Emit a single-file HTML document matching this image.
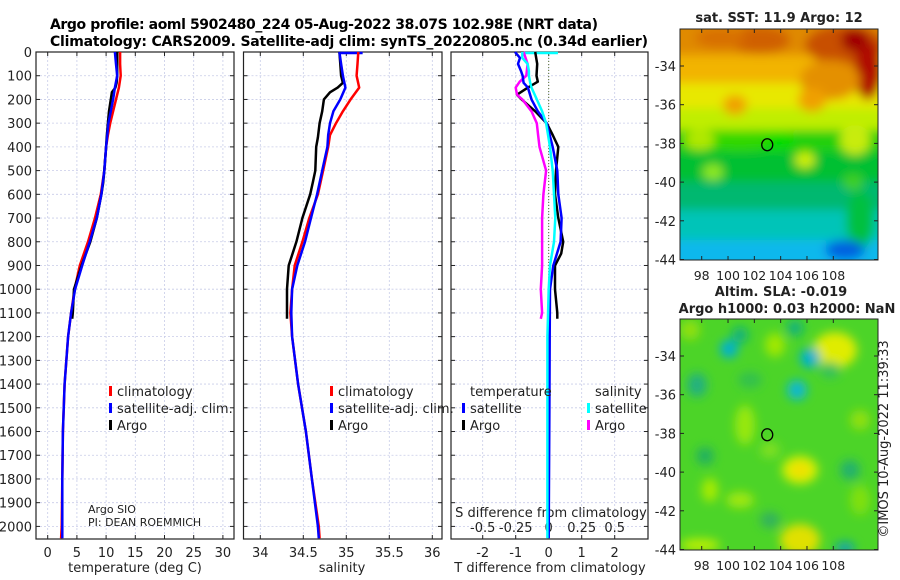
<!DOCTYPE html>
<html><head><meta charset="utf-8"><style>
html,body{margin:0;padding:0;background:#fff;}
svg{display:block;font-family:"DejaVu Sans","Liberation Sans",sans-serif;}
</style></head><body>
<svg id="fig" width="900" height="580" viewBox="0 0 900 580" xmlns="http://www.w3.org/2000/svg">
<defs>
<filter id="blur1" x="-20%" y="-20%" width="140%" height="140%"><feGaussianBlur stdDeviation="5"/></filter>
<filter id="blur2" x="-20%" y="-20%" width="140%" height="140%"><feGaussianBlur stdDeviation="5"/></filter>
<clipPath id="clipM1"><rect x="680" y="29" width="198" height="231"/></clipPath>
<clipPath id="clipM2"><rect x="680" y="319" width="198" height="231"/></clipPath>
</defs>
<text x="50" y="29" font-size="14" font-weight="bold" textLength="548">Argo profile: aoml 5902480_224 05-Aug-2022 38.07S 102.98E (NRT data)</text>
<text x="50" y="46" font-size="14" font-weight="bold" textLength="598">Climatology: CARS2009. Satellite-adj clim: synTS_20220805.nc (0.34d earlier)</text>
<g id="layer"></g>
</svg>
<script>
// ---------- data ----------
const depthTicks = [0,100,200,300,400,500,600,700,800,900,1000,1100,1200,1300,1400,1500,1600,1700,1800,1900,2000];
const tTicks = [0,5,10,15,20,25,30];
const sTicks = [34,34.5,35,35.5,36];
const sTickLabels = ["34","34.5","35","35.5","36"];
const dTTicks = [-2,-1,0,1,2];
const dSTicks = [-0.5,-0.25,0,0.25,0.5];
const dSTickLabels = ["-0.5","-0.25","0","0.25","0.5"];

const climDepth = [0,50,100,150,200,250,300,350,400,500,600,700,800,900,1000,1100,1200,1400,1600,1800,2000,2050];
const climTemp  = [12.4,12.4,12.5,12.2,11.7,11.2,10.7,10.3,10.0,9.7,9.1,8.1,6.9,5.5,4.6,4.0,3.5,2.9,2.6,2.5,2.4,2.3];
const satTemp   = [11.5,11.7,11.9,11.5,11.2,10.8,10.4,10.2,10.0,9.7,9.2,8.4,7.2,5.9,4.7,4.0,3.5,2.9,2.6,2.5,2.5,2.5];
const climSal   = [35.14,35.13,35.12,35.15,35.05,34.96,34.88,34.81,34.79,34.73,34.67,34.57,34.49,34.40,34.37,34.35,34.37,34.44,34.53,34.60,34.68,34.69];
const satSal    = [34.92,34.94,34.96,34.99,34.93,34.85,34.81,34.79,34.78,34.72,34.66,34.59,34.52,34.43,34.37,34.36,34.37,34.44,34.53,34.60,34.67,34.68];

const argoDepth = [0,50,100,130,150,170,200,250,300,360,400,500,550,600,700,800,900,1000,1050,1100,1125];
const argoTemp  = [11.9,11.9,11.9,11.8,11.6,11.0,10.8,10.5,10.3,10.1,10.0,9.7,9.5,9.2,8.4,7.3,5.8,4.5,4.4,4.3,4.2];
const argoSal   = [34.92,34.93,34.94,34.96,34.90,34.81,34.74,34.72,34.69,34.67,34.65,34.64,34.61,34.58,34.49,34.42,34.33,34.31,34.31,34.31,34.31];

const dDepth  = [0,25,50,80,100,130,150,200,250,300,400,500,600,700,800,900,1000,1200,1500,1800,2050];
const dTSat   = [-1.02,-0.87,-0.93,-0.84,-0.79,-0.76,-0.63,-0.52,-0.33,-0.06,0.12,0.26,0.29,0.39,0.36,0.14,0.04,0.03,0.02,0.01,0.0];
const dSSat   = [-0.20,-0.20,-0.16,-0.15,-0.15,-0.14,-0.13,-0.09,-0.05,-0.02,0.01,0.03,0.04,0.05,0.04,0.01,0.0,-0.01,-0.01,-0.01,-0.01];
const dADepth = [0,50,100,125,150,180,200,250,300,350,400,500,600,700,800,850,900,1000,1100,1125];
const dTArgo  = [-0.41,-0.35,-0.37,-0.33,-0.63,-0.96,-0.82,-0.41,-0.06,0.12,0.29,0.22,0.19,0.29,0.44,0.38,0.19,0.19,0.26,0.26];
const dSArgo  = [-0.19,-0.16,-0.17,-0.22,-0.25,-0.24,-0.20,-0.13,-0.09,-0.08,-0.07,-0.02,-0.04,-0.05,-0.05,-0.05,-0.05,-0.06,-0.05,-0.06];

const lonTicks = [98,100,102,104,106,108];
const latTicks = [-34,-36,-38,-40,-42,-44];
const argoLon = 102.98, argoLat = -38.07;

// ---------- axes ----------
const NS='http://www.w3.org/2000/svg';
const layer=document.getElementById('layer');
function mk(tag,attrs,parent){const e=document.createElementNS(NS,tag);for(const k in attrs)e.setAttribute(k,attrs[k]);(parent||layer).appendChild(e);return e;}
const Y0=52, PY=0.2372, YB=539;
const yD = d => Y0 + d*PY;
const P1={l:36,r:234}, P2={l:243.5,r:442}, P3={l:451,r:648};
const xT = t => 47.7 + t*5.84;
const xS = s => 260.3 + (s-34)*86;
const xDT = t => 548.7 + t*33;
const xDS = s => 548.7 + s*132;

function panel(P,name,vgrid,vfun){
  const g=mk('g',{});
  
  
  depthTicks.forEach(d=>{mk('line',{x1:P.l,x2:P.r,y1:yD(d),y2:yD(d),stroke:'#c8cce8','stroke-width':0.8,'stroke-dasharray':'2,2'},g);});
  vgrid.forEach(v=>{mk('line',{x1:vfun(v),x2:vfun(v),y1:Y0,y2:YB,stroke:'#c8cce8','stroke-width':0.8,'stroke-dasharray':'2,2'},g);});
  depthTicks.forEach(d=>{mk('line',{x1:P.l,x2:P.l+4,y1:yD(d),y2:yD(d),stroke:'#222'},g);mk('line',{x1:P.r-4,x2:P.r,y1:yD(d),y2:yD(d),stroke:'#222'},g);});
  vgrid.forEach(v=>{mk('line',{x1:vfun(v),x2:vfun(v),y1:Y0,y2:Y0+4,stroke:'#222'},g);mk('line',{x1:vfun(v),x2:vfun(v),y1:YB-4,y2:YB,stroke:'#222'},g);});
  mk('rect',{x:P.l,y:Y0,width:P.r-P.l,height:YB-Y0,fill:'none',stroke:'#222','stroke-width':1.2},g);
  return g;
}
function line(xs,ds,xf,color,w,name){
  let d='';xs.forEach((v,i)=>{d+=(i?'L':'M')+xf(v).toFixed(1)+','+yD(ds[i]).toFixed(1);});
  const p=mk('path',{d:d,fill:'none',stroke:color,'stroke-width':w,'stroke-linejoin':'round'});
  
  
  return p;
}
function txt(x,y,s,attrs,name){const t=mk('text',Object.assign({x:x,y:y,'font-size':13,fill:'#222'},attrs||{}));t.textContent=s;return t;}

depthTicks.forEach(d=>{txt(32,yD(d)+5,String(d),{'text-anchor':'end'},'depth-tick-label');});

panel(P1,'temperature-panel',tTicks,xT);
tTicks.forEach(t=>txt(xT(t),557,String(t),{'text-anchor':'middle'},'temperature-tick-label'));
txt(135,572,'temperature (deg C)',{'text-anchor':'middle'},'temperature-axis-title');
line(climTemp,climDepth,xT,'#ff0000',2.5,'temperature-climatology-line');
line(argoTemp,argoDepth,xT,'#000',2.5,'temperature-argo-line');
line(satTemp,climDepth,xT,'#0000ff',2.5,'temperature-satellite-line');

panel(P2,'salinity-panel',sTicks,xS);
sTicks.forEach((s,i)=>txt(xS(s),557,sTickLabels[i],{'text-anchor':'middle'},'salinity-tick-label'));
txt(342,572,'salinity',{'text-anchor':'middle'},'salinity-axis-title');
mk('line',{x1:xS(satSal[0]),x2:xS(35.19),y1:yD(0)+1,y2:yD(0)+1,stroke:'#0000ff','stroke-width':2.5});
line(climSal,climDepth,xS,'#ff0000',2.5,'salinity-climatology-line');
line(argoSal,argoDepth,xS,'#000',2.5,'salinity-argo-line');
line(satSal,climDepth,xS,'#0000ff',2.5,'salinity-satellite-line');

panel(P3,'difference-panel',dTTicks,xDT);
mk('line',{x1:xDT(0),x2:xDT(0),y1:Y0,y2:YB,stroke:'#556b2f','stroke-width':1,'stroke-dasharray':'1,2'});
dTTicks.forEach(t=>txt(xDT(t),557,String(t),{'text-anchor':'middle'},'t-difference-tick-label'));
txt(550,572,'T difference from climatology',{'text-anchor':'middle'},'t-difference-axis-title');
dSTicks.forEach((s,i)=>txt(xDS(s),532,dSTickLabels[i],{'text-anchor':'middle'},'s-difference-tick-label'));
txt(551,517,'S difference from climatology',{'text-anchor':'middle'},'s-difference-axis-title');
mk('line',{x1:xDS(-0.19),x2:xDS(0.07),y1:yD(0)+1,y2:yD(0)+1,stroke:'#00ffff','stroke-width':2.5});
line(dTArgo,dADepth,xDT,'#000',2.5,'t-difference-argo-line');
line(dSArgo,dADepth,xDS,'#ff00ff',2.5,'s-difference-argo-line');
line(dTSat,dDepth,xDT,'#0000ff',2.5,'t-difference-satellite-line');
line(dSSat,dDepth,xDS,'#00ffff',2.5,'s-difference-satellite-line');

function legItem(x,y,color,label,name){
  const g=mk('g',{});
  mk('rect',{x:x,y:y-10,width:3,height:10,fill:color},g);
  const t=mk('text',{x:x+8,y:y,'font-size':13,fill:'#222'},g);t.textContent=label;
}
legItem(109,396,'#ff0000','climatology','legend-entry-climatology');
legItem(109,413,'#0000ff','satellite-adj. clim.','legend-entry-satellite');
legItem(109,430,'#000','Argo','legend-entry-argo');
legItem(330,396,'#ff0000','climatology','legend-entry-climatology');
legItem(330,413,'#0000ff','satellite-adj. clim.','legend-entry-satellite');
legItem(330,430,'#000','Argo','legend-entry-argo');
txt(470,396,'temperature',{},'legend-header-temperature');
legItem(462,413,'#0000ff','satellite','legend-entry-t-satellite');
legItem(462,430,'#000','Argo','legend-entry-t-argo');
txt(595,396,'salinity',{},'legend-header-salinity');
legItem(587,413,'#00ffff','satellite','legend-entry-s-satellite');
legItem(587,430,'#ff00ff','Argo','legend-entry-s-argo');
txt(88,513,'Argo SIO',{'font-size':11},'argo-source-label');
txt(88,526,'PI: DEAN ROEMMICH',{'font-size':11},'pi-label');

// ---------- maps ----------
const xLon = lon => 701.7 + (lon-98)*13.16;
function mapAxes(top,name){
  const yLat = lat => top.y34 + (-34-lat)*19.35;
  const g=mk('g',{});
  mk('rect',{x:680,y:top.t,width:198,height:231,fill:'none',stroke:'#222','stroke-width':1},g);
  lonTicks.forEach(l=>{mk('line',{x1:xLon(l),x2:xLon(l),y1:top.t+231,y2:top.t+227,stroke:'#222'},g);mk('line',{x1:xLon(l),x2:xLon(l),y1:top.t,y2:top.t+4,stroke:'#222'},g);
    const t=mk('text',{x:xLon(l),y:top.t+251,'font-size':12.5,'text-anchor':'middle',fill:'#222'},g);t.textContent=String(l);});
  latTicks.forEach(l=>{mk('line',{x1:680,x2:684,y1:yLat(l),y2:yLat(l),stroke:'#222'},g);mk('line',{x1:874,x2:878,y1:yLat(l),y2:yLat(l),stroke:'#222'},g);
    const t=mk('text',{x:676,y:yLat(l)+5,'font-size':13,'text-anchor':'end',fill:'#222'},g);t.textContent=String(l);});
  mk('ellipse',{cx:xLon(argoLon),cy:yLat(argoLat),rx:5.5,ry:6,fill:'none',stroke:'#000','stroke-width':1.3},g);
}
const m1=mk('g',{'clip-path':'url(#clipM1)'});


const b1=mk('g',{filter:'url(#blur1)'},m1);
[['#e08a00',10,40],['#f2b400',55,28],['#e8e800',83,25],['#c0ee00',108,22],['#20d010',130,22],['#00c030',152,30],['#00b870',182,28],['#00c4b8',210,30],['#10b8ec',240,40]].forEach(r=>mk('rect',{x:660,y:r[1],width:240,height:r[2]+6,fill:r[0]},b1));
[[760,40,30,14,'#d06000'],[720,38,25,10,'#d87000'],[845,45,40,20,'#c85000'],[868,70,14,30,'#b01000'],[855,40,14,12,'#a00000'],[830,80,30,20,'#e49000'],[735,105,12,10,'#f0a000'],[812,100,14,12,'#f0a000'],[770,140,25,10,'#00dd00'],[740,140,30,10,'#30d800'],[713,172,10,8,'#90ea20'],[805,160,10,8,'#d0f000'],[853,182,10,8,'#40d020'],[860,220,14,30,'#00c040'],[845,250,20,10,'#0060e0'],[855,140,15,15,'#c8ec10'],[700,140,15,10,'#b0e800']].forEach(e=>mk('ellipse',{cx:e[0],cy:e[1],rx:e[2],ry:e[3],fill:e[4]},b1));
mapAxes({t:29,y34:66},'sst-map-axes');
txt(779,22,'sat. SST: 11.9 Argo: 12',{'text-anchor':'middle','font-weight':'bold'},'sst-map-title');

const m2=mk('g',{'clip-path':'url(#clipM2)'});


mk('rect',{x:680,y:319,width:198,height:231,fill:'#4cd428'},m2);
const b2=mk('g',{filter:'url(#blur2)'},m2);
[[838,354,14,12,'#f0c000'],[835,350,22,18,'#e0ec00'],[740,335,8,8,'#10b080'],[795,328,8,8,'#10b080'],[729,349,9,9,'#00b0d0'],[810,358,10,10,'#00b0d0'],[797,390,10,10,'#10b8d0'],[697,385,10,12,'#20b080'],[705,456,9,9,'#20b060'],[800,470,18,14,'#d8f000'],[800,470,10,8,'#f0e000'],[770,450,10,8,'#80e020'],[745,425,10,20,'#98e810'],[710,490,8,12,'#a8ec00'],[800,540,20,16,'#e0e000'],[830,370,10,8,'#30c060'],[850,470,10,10,'#20b070'],[845,548,10,6,'#10a0b0'],[770,520,10,8,'#30b060'],[860,420,10,10,'#90e010'],[700,545,20,6,'#c0f000'],[750,380,12,8,'#30c050'],[775,345,10,12,'#a0e800'],[690,330,10,10,'#90e010'],[860,500,10,15,'#80e010'],[740,500,14,8,'#a0e810']].forEach(e=>mk('ellipse',{cx:e[0],cy:e[1],rx:e[2],ry:e[3],fill:e[4]},b2));
mapAxes({t:319,y34:356},'sla-map-axes');
txt(781,296,'Altim. SLA: -0.019',{'text-anchor':'middle','font-weight':'bold'},'sla-map-title-1');
txt(787,313,'Argo h1000: 0.03 h2000: NaN',{'text-anchor':'middle','font-weight':'bold'},'sla-map-title-2');
txt(0,0,'©IMOS 10-Aug-2022 11:39:33',{'text-anchor':'middle',transform:'translate(888,439) rotate(-90)'},'imos-timestamp');
</script>
</body></html>
